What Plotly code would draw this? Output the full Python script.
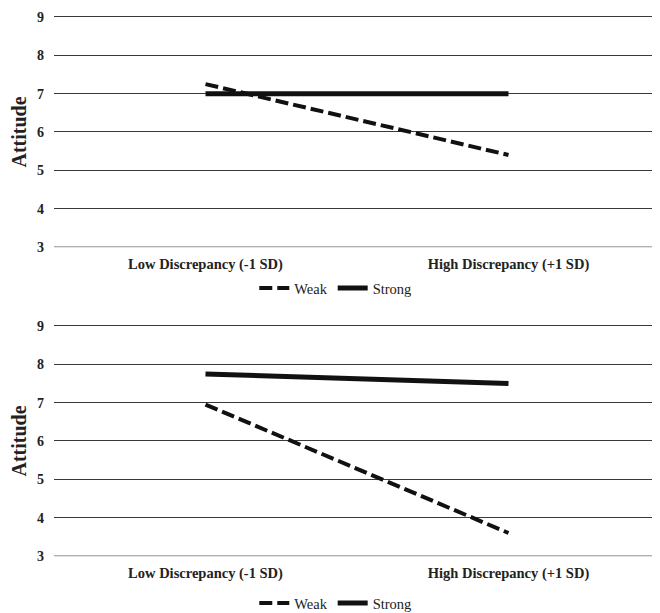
import plotly.graph_objects as go

categories = ["Low Discrepancy (-1 SD)", "High Discrepancy (+1 SD)"]
top_weak = [7.25, 5.4]
top_strong = [7.0, 7.0]
bottom_weak = [6.95, 3.6]
bottom_strong = [7.75, 7.5]
y_ticks = [3, 4, 5, 6, 7, 8, 9]

SERIF = "Liberation Serif"
# page body has an 8px margin, so the figure is 8px smaller than the window
W, H = 652, 605
Y9_TOP, Y3_TOP = 9, 239      # pixel rows of 9 and 3 in top panel
Y9_BOT, Y3_BOT = 318, 548    # pixel rows of 9 and 3 in bottom panel
L, R, T, B = 46, 0, 0, 0
ph = H - T - B
u = (Y3_TOP - Y9_TOP) / 6.0
pad = 0.04
YMIN, YMAX = 3 - pad, 9 + pad

def dom(y9, y3):
    top = y9 - pad * u
    bot = y3 + pad * u
    return [(H - bot) / ph, (H - top) / ph]

top_dom = dom(Y9_TOP, Y3_TOP)
bot_dom = dom(Y9_BOT, Y3_BOT)

fig = go.Figure()
dash = "13px,5px"

fig.add_trace(go.Scatter(x=categories, y=top_weak, mode="lines", name="Weak",
                         line=dict(color="#111111", width=4, dash=dash),
                         xaxis="x", yaxis="y", legend="legend"))
fig.add_trace(go.Scatter(x=categories, y=top_strong, mode="lines", name="Strong",
                         line=dict(color="#111111", width=5),
                         xaxis="x", yaxis="y", legend="legend"))
fig.add_trace(go.Scatter(x=categories, y=bottom_weak, mode="lines", name="Weak",
                         line=dict(color="#111111", width=4, dash=dash),
                         xaxis="x2", yaxis="y2", legend="legend2"))
fig.add_trace(go.Scatter(x=categories, y=bottom_strong, mode="lines", name="Strong",
                         line=dict(color="#111111", width=5),
                         xaxis="x2", yaxis="y2", legend="legend2"))

yax = dict(range=[YMIN, YMAX], tickvals=y_ticks, ticktext=["<b>%d</b>" % v for v in y_ticks],
           showgrid=True, gridcolor="#3a3a3a",
           gridwidth=1, zeroline=False, showline=False, ticks="", ticklabelstandoff=9,
           tickfont=dict(family=SERIF, size=14, color="#222222"),
           title=dict(text="<b>Attitude</b>", font=dict(family=SERIF, size=20, color="#222222"),
                      standoff=8))
xax = dict(type="category", range=[-0.5, 1.5], showgrid=False, zeroline=False,
           showline=False, ticks="", ticklabelstandoff=5,
           tickfont=dict(family=SERIF, size=14.5, color="#222222"),
           tickvals=categories, ticktext=["<b>%s</b>" % c for c in categories])

leg = dict(orientation="h", xanchor="center", yanchor="middle",
           font=dict(family=SERIF, size=14.5, color="#222222"),
           bgcolor="rgba(0,0,0,0)", itemwidth=30, tracegroupgap=0)

fig.update_layout(
    width=W, height=H,
    margin=dict(l=L, r=R, t=T, b=B, autoexpand=False, pad=0),
    paper_bgcolor="white", plot_bgcolor="white",
    xaxis=dict(xax, anchor="y"),
    yaxis=dict(yax, domain=top_dom, anchor="x"),
    xaxis2=dict(xax, anchor="y2"),
    yaxis2=dict(yax, domain=bot_dom, anchor="x2"),
    legend=dict(leg, x=0.465, y=(H - 280) / ph),
    legend2=dict(leg, x=0.465, y=(H - 595) / ph),
    showlegend=True,
)

# light gray baseline at value 3 in each panel
for yref, xref in (("y", "x"), ("y2", "x2")):
    fig.add_shape(type="line", xref=xref + " domain", yref=yref, x0=0, x1=1, y0=3, y1=3,
                  line=dict(color="#d9d9d9", width=1.5), layer="above")

fig.write_html("out.html")
